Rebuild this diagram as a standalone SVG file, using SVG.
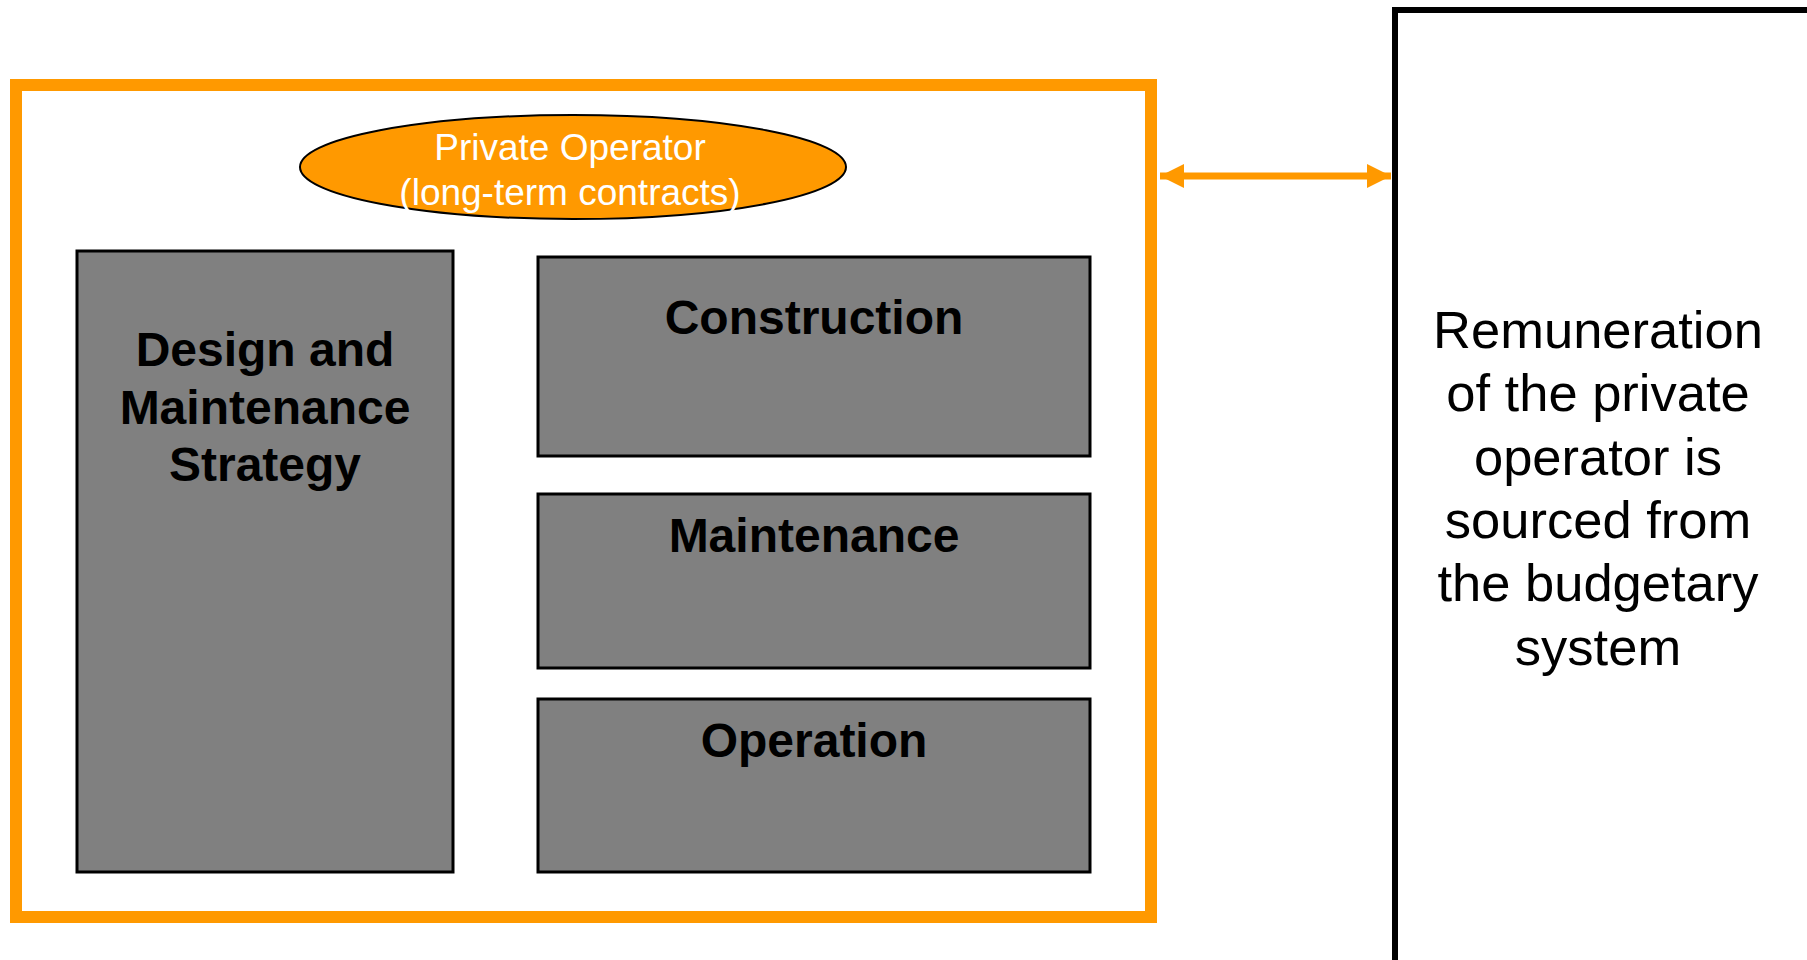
<svg xmlns="http://www.w3.org/2000/svg" width="1807" height="960" viewBox="0 0 1807 960">
<style>
  .frame{fill:none;stroke:#FF9900;stroke-width:12}
  .gbox{fill:#808080;stroke:#000;stroke-width:3}
  .btxt{font-family:"Liberation Sans",Arial,sans-serif;font-weight:bold;font-size:48px;fill:#000;text-anchor:middle}
  .otxt{font-family:"Liberation Sans",Arial,sans-serif;font-size:37px;fill:#fff;text-anchor:middle}
  .rtxt{font-family:"Liberation Sans",Arial,sans-serif;font-size:52.5px;fill:#000;text-anchor:middle}
  .conn{stroke:#FF9900;stroke-width:7;fill:none}
</style>
<defs>
  <marker id="ah" viewBox="0 0 10 10" refX="10" refY="5" markerUnits="userSpaceOnUse" markerWidth="24" markerHeight="24" orient="auto-start-reverse">
    <path d="M0,0 L10,5 L0,10 Z" fill="#FF9900"/>
  </marker>
</defs>
<rect width="1807" height="960" fill="#fff"/>
<g id="frame">
  <rect class="frame" x="16" y="85" width="1135" height="832"/>
</g>
<g id="private-operator">
  <ellipse cx="573" cy="167" rx="273" ry="52" fill="#FF9900" stroke="#000" stroke-width="2"/>
  <text class="otxt" x="570" y="160">Private Operator</text>
  <text class="otxt" x="570" y="205">(long-term contracts)</text>
</g>
<g id="design-strategy">
  <rect class="gbox" x="77" y="251" width="376" height="621"/>
  <text class="btxt" x="265" y="366">Design and</text>
  <text class="btxt" x="265" y="424">Maintenance</text>
  <text class="btxt" x="265" y="481">Strategy</text>
</g>
<g id="construction">
  <rect class="gbox" x="538" y="257" width="552" height="199"/>
  <text class="btxt" x="814" y="334">Construction</text>
</g>
<g id="maintenance">
  <rect class="gbox" x="538" y="494" width="552" height="174"/>
  <text class="btxt" x="814" y="552">Maintenance</text>
</g>
<g id="operation">
  <rect class="gbox" x="538" y="699" width="552" height="173"/>
  <text class="btxt" x="814" y="757">Operation</text>
</g>
<g id="remuneration">
  <rect x="1395" y="10" width="1408" height="1000" fill="#fff" stroke="#000" stroke-width="6"/>
  <text class="rtxt" x="1598" y="348">Remuneration</text>
  <text class="rtxt" x="1598" y="411">of the private</text>
  <text class="rtxt" x="1598" y="475">operator is</text>
  <text class="rtxt" x="1598" y="538">sourced from</text>
  <text class="rtxt" x="1598" y="601">the budgetary</text>
  <text class="rtxt" x="1598" y="665">system</text>
</g>
<g id="connectors">
  <line class="conn" x1="1160" y1="176" x2="1391" y2="176" marker-start="url(#ah)" marker-end="url(#ah)"/>
</g>
</svg>
